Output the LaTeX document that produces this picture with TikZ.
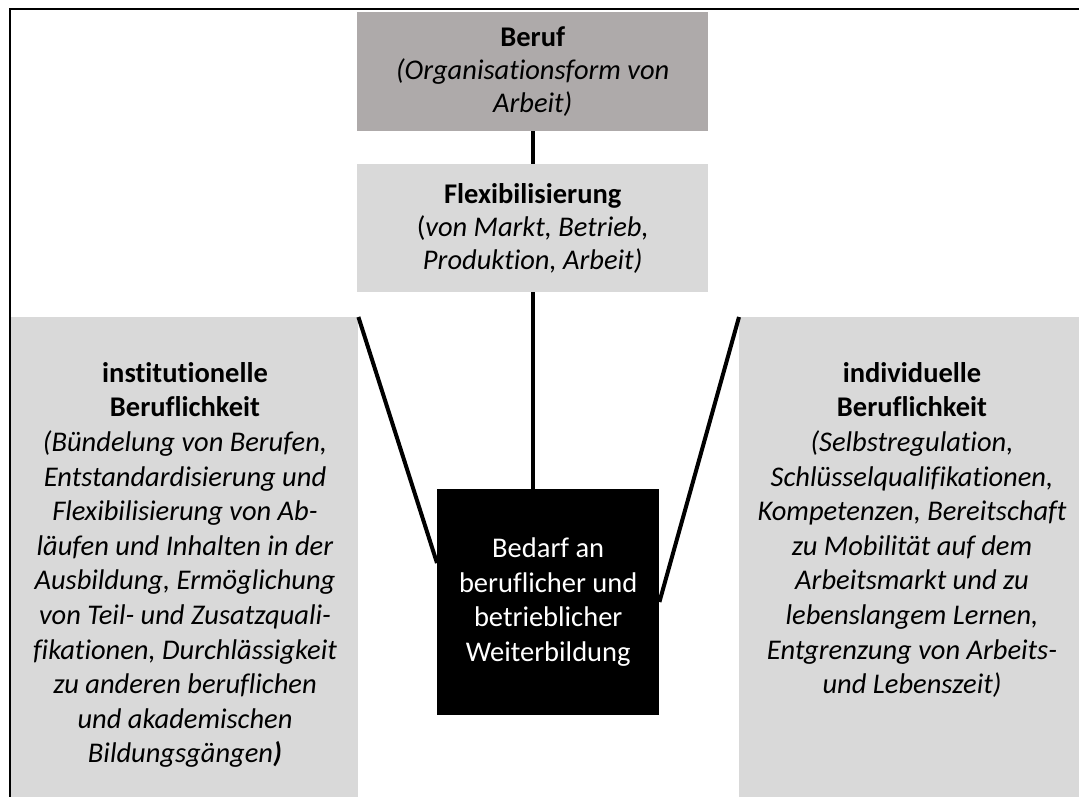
\documentclass[tikz,border=0pt]{standalone}
\usepackage{fontspec}
\setmainfont{Carlito}[Ligatures=NoCommon]
\definecolor{darkgray}{RGB}{174,170,170}
\definecolor{lightgray}{RGB}{217,217,217}
\tikzset{
  box/.style={rectangle, inner sep=0pt, anchor=north west, align=center,
    font=\fontsize{28.5}{33}\selectfont},
  txt/.style={inner sep=0pt, align=center, font=\fontsize{28.5}{34.6}\selectfont},
  conn/.style={line width=4pt},
  frame/.style={line width=1.3pt}
}
\begin{document}
\begin{tikzpicture}[x=1pt,y=-1pt]
\useasboundingbox (0,0) rectangle (1079,796);
% frame
\coordinate (f0) at (10,820);
\coordinate (f1) at (10,9);
\coordinate (f2) at (1100,9);
\draw[frame] (f0) -- (f1) -- (f2);
% boxes
\node[box, fill=darkgray, minimum width=351pt, minimum height=119pt] (beruf) at (357,12)
  {\textbf{Beruf}\\\textit{(Organisationsform von}\\\textit{Arbeit)}};
\node[box, fill=lightgray, minimum width=351pt, minimum height=128pt] (flex) at (357,164)
  {\textbf{Flexibilisierung}\\(\textit{von Markt, Betrieb,}\\\textit{Produktion, Arbeit)}};
\node[box, fill=black, text=white, minimum width=222pt, minimum height=226pt,
  font=\fontsize{28.5}{34.6}\selectfont] (bedarf) at (437,489)
  {Bedarf an\\beruflicher und\\betrieblicher\\Weiterbildung};
\node[box, fill=lightgray, minimum width=347pt, minimum height=500pt] (inst) at (11,317) {};
\node[box, fill=lightgray, minimum width=345pt, minimum height=500pt] (indiv) at (739,317) {};
\node[txt, anchor=north] (insttxt) at (185,362)
  {\textbf{institutionelle}\\\textbf{Beruflichkeit}\\
   \textit{(Bündelung von Berufen,}\\\textit{Entstandardisierung und}\\
   \textit{Flexibilisierung von Ab-}\\\textit{läufen und Inhalten in der}\\
   \textit{Ausbildung, Ermöglichung}\\\textit{von Teil- und Zusatzquali-}\\
   \textit{fikationen, Durchlässigkeit}\\\textit{zu anderen beruflichen}\\
   \textit{und akademischen}\\\textit{Bildungsgängen\textbf{)}}};
\node[txt, anchor=north] (indivtxt) at (912,362)
  {\textbf{individuelle}\\\textbf{Beruflichkeit}\\
   \textit{(Selbstregulation,}\\\textit{Schlüsselqualifikationen,}\\
   \textit{Kompetenzen, Bereitschaft}\\\textit{zu Mobilität auf dem}\\
   \textit{Arbeitsmarkt und zu}\\\textit{lebenslangem Lernen,}\\
   \textit{Entgrenzung von Arbeits-}\\\textit{und Lebenszeit)}};
% connectors
\draw[conn] (beruf.south -| 533,0) -- (flex.north -| 533,0);
\draw[conn] (flex.south -| 533,0) -- (bedarf.north -| 533,0);
\draw[conn] (inst.north east) -- ([yshift=-74pt]bedarf.north west);
\draw[conn] (indiv.north west) -- ([yshift=-113pt]bedarf.north east);
\end{tikzpicture}
\end{document}
